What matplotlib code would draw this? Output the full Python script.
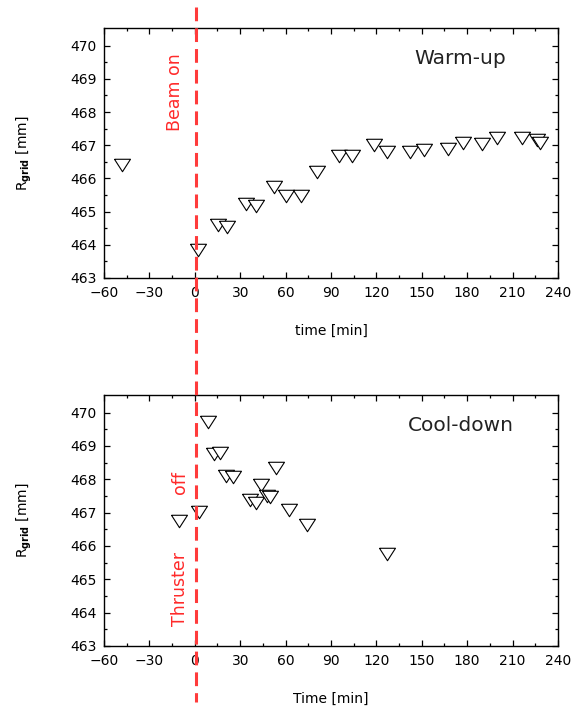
import numpy as np
import matplotlib
matplotlib.use("Agg")
import matplotlib.pyplot as plt
from matplotlib.lines import Line2D
from matplotlib.transforms import blended_transform_factory

# ── Data ─────────────────────────────────────────────────────────────────────
warm_t = [-48, 2, 15.5, 21.5, 34, 40.5, 52.5, 60, 70.5, 80.5, 95, 104,
          118.5, 127, 142.5, 151.5, 167.5, 177, 189.5, 199.5, 216.5, 226, 228]
warm_r = [466.4, 463.83, 464.6, 464.53, 465.22, 465.18, 465.75, 465.48, 465.48,
          466.2, 466.67, 466.67, 467.0, 466.8, 466.8, 466.85, 466.9, 467.07,
          467.05, 467.22, 467.22, 467.17, 467.07]

cool_t = [-10.5, 2.8, 8.5, 13, 16.5, 20.5, 25.5, 36.5, 40.3, 43.7, 47.5, 49.7,
          53.5, 62.3, 74.4, 127.2]
cool_r = [466.75, 467.02, 469.71, 468.75, 468.8, 468.09, 468.07, 467.37, 467.29,
          467.84, 467.49, 467.47, 468.34, 467.09, 466.62, 465.76]

xticks = np.arange(-60, 241, 30)
yticks = np.arange(463, 471, 1)

plt.rcParams['font.family'] = 'DejaVu Sans'

fig = plt.figure(figsize=(5.72, 7.09), dpi=100)
ax1 = fig.add_axes([0.1818, 0.6079, 0.7937, 0.3526])
ax2 = fig.add_axes([0.1818, 0.0889, 0.7937, 0.3540])

# wide down-pointing triangle like the Origin symbol
tri = [(-1, 0.78), (1, 0.78), (0, -0.78), (-1, 0.78)]

for ax, t, r, xlab, label in [(ax1, warm_t, warm_r, 'time [min]', 'Warm-up'),
                              (ax2, cool_t, cool_r, 'Time [min]', 'Cool-down')]:
    ax.plot(t, r, linestyle='none', marker=tri, markersize=11.5,
            markerfacecolor='white', markeredgecolor='black',
            markeredgewidth=0.8, zorder=3)
    ax.set_xlim(-60, 240)
    ax.set_ylim(463, 470.53)
    ax.set_xticks(xticks)
    ax.set_yticks(yticks)
    ax.set_xticks(np.arange(-45, 240, 30), minor=True)
    ax.set_yticks(np.arange(463.5, 470.5, 1), minor=True)
    ax.tick_params(which='both', direction='in', top=True, right=True,
                   labelsize=10, width=0.9)
    ax.tick_params(which='major', length=4.5)
    ax.tick_params(which='minor', length=2)
    ax.tick_params(axis='x', pad=6)
    ax.tick_params(axis='y', pad=5)
    for s in ax.spines.values():
        s.set_linewidth(1.0)
    ax.set_xlabel(xlab, fontsize=10, labelpad=17)
    ax.set_ylabel(r'R$_{\mathbf{grid}}$ [mm]', fontsize=10, labelpad=26)
    ax.text(0.785, 0.88, label, transform=ax.transAxes, ha='center',
            va='center', fontsize=14.5, color='#222222')

# red vertical annotations
ax1.text(-13, 468.6, 'Beam on', rotation=90, color='#ff2a2a', fontsize=12.5,
         ha='center', va='center')
ax2.text(-9.8, 464.72, 'Thruster', rotation=90, color='#ff2a2a', fontsize=12.5,
         ha='center', va='center')
ax2.text(-9.8, 467.9, 'off', rotation=90, color='#ff2a2a', fontsize=12.5,
         ha='center', va='center')

# dashed t = 0 line running through both panels
trans = blended_transform_factory(ax1.transData, fig.transFigure)
fig.add_artist(Line2D([0.8, 0.8], [1 - 7 / 709, 1 - 702 / 709], transform=trans,
                      color='#ff3b3b', linewidth=2.2, dashes=(4.5, 2.3),
                      zorder=5))

fig.savefig('out.png', dpi=100)
